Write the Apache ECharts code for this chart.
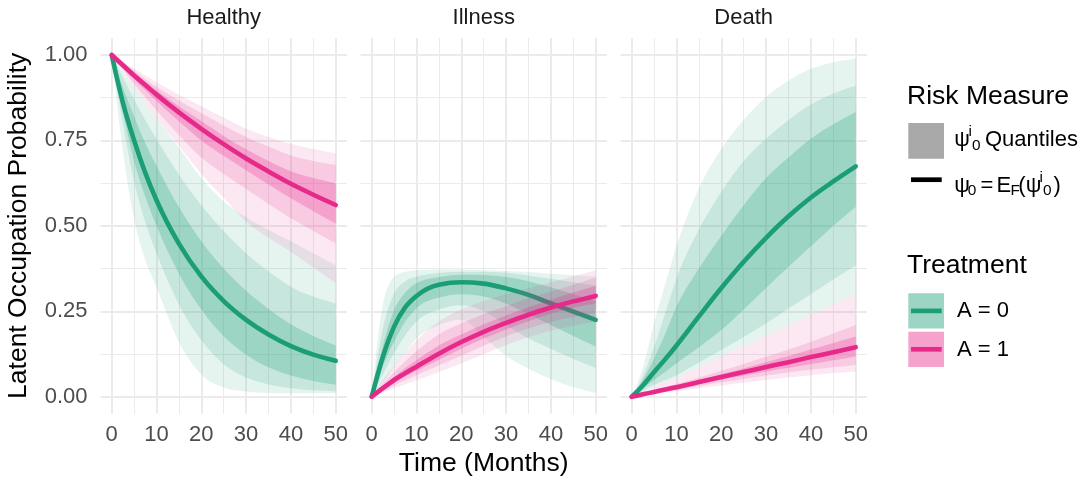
<!DOCTYPE html>
<html>
<head>
<meta charset="utf-8">
<script src="https://cdn.jsdelivr.net/npm/echarts@6/dist/echarts.min.js"></script>
<style>
html,body{margin:0;padding:0;background:#ffffff;}
#chart{width:1091px;height:480px;}
</style>
</head>
<body>
<div id="chart"></div>
<script>
// ---------- categories / ticks ----------
const months = [0, 2.5, 5, 7.5, 10, 15, 20, 25, 30, 35, 40, 45, 50];
const panelNames = ['Healthy', 'Illness', 'Death'];
const treatmentNames = ['A = 0', 'A = 1'];
const xTickLabels = [0, 10, 20, 30, 40, 50];
const yTickLabels = [0, 0.25, 0.5, 0.75, 1];

// ---------- Healthy, A = 0 ----------
const h0_oLo  = [1, 0.72, 0.52, 0.40, 0.32, 0.16, 0.065, 0.027, 0.015, 0.011, 0.010, 0.010, 0.010];
const h0_mLo  = [1, 0.80, 0.63, 0.51, 0.42, 0.27, 0.165, 0.095, 0.056, 0.036, 0.025, 0.019, 0.016];
const h0_iLo  = [1, 0.835, 0.69, 0.585, 0.50, 0.36, 0.255, 0.177, 0.123, 0.086, 0.062, 0.046, 0.035];
const h0_mean = [1, 0.86, 0.75, 0.655, 0.575, 0.448, 0.352, 0.28, 0.225, 0.182, 0.148, 0.123, 0.105];
const h0_iHi  = [1, 0.905, 0.82, 0.742, 0.675, 0.555, 0.455, 0.375, 0.31, 0.257, 0.212, 0.178, 0.15];
const h0_mHi  = [1, 0.935, 0.87, 0.81, 0.755, 0.65, 0.56, 0.485, 0.42, 0.367, 0.322, 0.293, 0.273];
const h0_oHi  = [1, 0.952, 0.905, 0.86, 0.815, 0.73, 0.64, 0.572, 0.525, 0.488, 0.455, 0.42, 0.385];

// ---------- Healthy, A = 1 ----------
const h1_oLo  = [1, 0.953, 0.905, 0.86, 0.815, 0.735, 0.652, 0.582, 0.513, 0.465, 0.424, 0.378, 0.332];
const h1_mLo  = [1, 0.958, 0.915, 0.876, 0.838, 0.766, 0.70, 0.652, 0.608, 0.564, 0.522, 0.485, 0.449];
const h1_iLo  = [1, 0.965, 0.93, 0.897, 0.865, 0.806, 0.75, 0.705, 0.663, 0.621, 0.581, 0.543, 0.507];
const h1_mean = [1, 0.97, 0.94, 0.912, 0.884, 0.832, 0.784, 0.739, 0.697, 0.659, 0.623, 0.591, 0.561];
const h1_iHi  = [1, 0.974, 0.948, 0.922, 0.897, 0.85, 0.807, 0.763, 0.724, 0.69, 0.66, 0.64, 0.624];
const h1_mHi  = [1, 0.977, 0.954, 0.93, 0.907, 0.867, 0.83, 0.794, 0.76, 0.732, 0.706, 0.69, 0.678];
const h1_oHi  = [1, 0.98, 0.961, 0.94, 0.92, 0.884, 0.85, 0.817, 0.785, 0.76, 0.74, 0.725, 0.712];

// ---------- Illness, A = 0 ----------
const i0_oLo  = [0, 0.04, 0.088, 0.13, 0.17, 0.21, 0.225, 0.175, 0.12, 0.082, 0.052, 0.028, 0.011];
const i0_mLo  = [0, 0.065, 0.127, 0.18, 0.22, 0.255, 0.268, 0.25, 0.21, 0.17, 0.14, 0.11, 0.084];
const i0_iLo  = [0, 0.09, 0.161, 0.22, 0.259, 0.29, 0.30, 0.293, 0.272, 0.242, 0.21, 0.178, 0.147];
const i0_mean = [0, 0.117, 0.205, 0.262, 0.295, 0.328, 0.335, 0.331, 0.317, 0.298, 0.273, 0.249, 0.225];
const i0_iHi  = [0, 0.15, 0.254, 0.305, 0.332, 0.35, 0.357, 0.356, 0.35, 0.338, 0.32, 0.30, 0.28];
const i0_mHi  = [0, 0.2, 0.302, 0.338, 0.351, 0.362, 0.366, 0.366, 0.363, 0.355, 0.345, 0.335, 0.325];
const i0_oHi  = [0, 0.27, 0.351, 0.366, 0.369, 0.372, 0.372, 0.37, 0.368, 0.365, 0.36, 0.356, 0.352];

// ---------- Illness, A = 1 ----------
const i1_oLo  = [0, 0.012, 0.024, 0.036, 0.048, 0.072, 0.098, 0.124, 0.151, 0.175, 0.193, 0.208, 0.22];
const i1_mLo  = [0, 0.016, 0.033, 0.048, 0.063, 0.092, 0.12, 0.149, 0.176, 0.2, 0.219, 0.233, 0.244];
const i1_iLo  = [0, 0.02, 0.041, 0.059, 0.076, 0.108, 0.14, 0.17, 0.197, 0.221, 0.243, 0.26, 0.273];
const i1_mean = [0, 0.025, 0.049, 0.069, 0.088, 0.126, 0.16, 0.19, 0.216, 0.24, 0.261, 0.279, 0.295];
const i1_iHi  = [0, 0.03, 0.058, 0.084, 0.107, 0.15, 0.182, 0.212, 0.238, 0.262, 0.284, 0.305, 0.325];
const i1_mHi  = [0, 0.037, 0.072, 0.104, 0.133, 0.183, 0.215, 0.242, 0.265, 0.288, 0.308, 0.328, 0.348];
const i1_oHi  = [0, 0.05, 0.09, 0.13, 0.165, 0.22, 0.255, 0.28, 0.30, 0.318, 0.335, 0.352, 0.37];

// ---------- Death, A = 0 ----------
const d0_oLo  = [0, 0.014, 0.029, 0.042, 0.055, 0.085, 0.118, 0.148, 0.178, 0.21, 0.24, 0.27, 0.30];
const d0_mLo  = [0, 0.017, 0.034, 0.048, 0.063, 0.10, 0.137, 0.175, 0.215, 0.258, 0.30, 0.343, 0.385];
const d0_iLo  = [0, 0.024, 0.049, 0.073, 0.098, 0.145, 0.195, 0.255, 0.318, 0.38, 0.44, 0.50, 0.556];
const d0_mean = [0, 0.033, 0.072, 0.11, 0.15, 0.235, 0.318, 0.395, 0.465, 0.528, 0.583, 0.63, 0.674];
const d0_iHi  = [0, 0.05, 0.112, 0.185, 0.263, 0.375, 0.47, 0.56, 0.64, 0.70, 0.755, 0.797, 0.833];
const d0_mHi  = [0, 0.06, 0.146, 0.245, 0.346, 0.49, 0.60, 0.69, 0.755, 0.81, 0.855, 0.887, 0.911];
const d0_oHi  = [0, 0.085, 0.215, 0.33, 0.44, 0.61, 0.725, 0.81, 0.877, 0.925, 0.96, 0.979, 0.989];

// ---------- Death, A = 1 ----------
const d1_oLo  = [0, 0.004, 0.008, 0.012, 0.016, 0.025, 0.033, 0.041, 0.049, 0.056, 0.063, 0.069, 0.074];
const d1_mLo  = [0, 0.005, 0.01, 0.015, 0.02, 0.031, 0.042, 0.052, 0.062, 0.071, 0.079, 0.086, 0.093];
const d1_iLo  = [0, 0.006, 0.012, 0.018, 0.024, 0.037, 0.05, 0.062, 0.074, 0.085, 0.096, 0.107, 0.118];
const d1_mean = [0, 0.007, 0.014, 0.021, 0.028, 0.043, 0.058, 0.072, 0.087, 0.101, 0.116, 0.13, 0.145];
const d1_iHi  = [0, 0.008, 0.016, 0.024, 0.032, 0.049, 0.066, 0.083, 0.101, 0.119, 0.138, 0.157, 0.176];
const d1_mHi  = [0, 0.009, 0.018, 0.028, 0.037, 0.056, 0.076, 0.096, 0.117, 0.138, 0.161, 0.185, 0.21];
const d1_oHi  = [0, 0.014, 0.029, 0.042, 0.055, 0.085, 0.118, 0.148, 0.178, 0.21, 0.24, 0.27, 0.30];

// ---------- assembly ----------
const groups = [
  [ {lo:[h0_oLo,h0_mLo,h0_iLo], hi:[h0_oHi,h0_mHi,h0_iHi], mean:h0_mean},
    {lo:[h1_oLo,h1_mLo,h1_iLo], hi:[h1_oHi,h1_mHi,h1_iHi], mean:h1_mean} ],
  [ {lo:[i0_oLo,i0_mLo,i0_iLo], hi:[i0_oHi,i0_mHi,i0_iHi], mean:i0_mean},
    {lo:[i1_oLo,i1_mLo,i1_iLo], hi:[i1_oHi,i1_mHi,i1_iHi], mean:i1_mean} ],
  [ {lo:[d0_oLo,d0_mLo,d0_iLo], hi:[d0_oHi,d0_mHi,d0_iHi], mean:d0_mean},
    {lo:[d1_oLo,d1_mLo,d1_iLo], hi:[d1_oHi,d1_mHi,d1_iHi], mean:d1_mean} ]
];

const COLORS = ['#1B9E77', '#E7298A'];
const RGB = [[27, 158, 119], [231, 41, 138]];
const BAND_ALPHA = [0.11, 0.15, 0.25];
const FF = '"Liberation Sans", Arial, Helvetica, sans-serif';
const GRID_C = '#EBEBEB';
const T = 'rgba(0,0,0,0)';

const PANEL_LEFT0 = 100.5, PANEL_STEP = 260, PANEL_W = 246.4;
const PANEL_TOP = 37.9, PANEL_H = 375.9;

// ---- monotone cubic smoothing of pixel points (rendering only) ----
function sgn(x) { return x < 0 ? -1 : 1; }
function tangents(P) {
  const n = P.length, t = new Array(n).fill(0);
  if (n < 2) return t;
  if (n === 2) { const s = (P[1][1] - P[0][1]) / (P[1][0] - P[0][0]); t[0] = t[1] = s; return t; }
  for (let i = 1; i < n - 1; i++) {
    const h0 = P[i][0] - P[i-1][0], h1 = P[i+1][0] - P[i][0];
    const s0 = (P[i][1] - P[i-1][1]) / h0, s1 = (P[i+1][1] - P[i][1]) / h1;
    const p = (s0 * h1 + s1 * h0) / (h0 + h1);
    t[i] = (sgn(s0) + sgn(s1)) * Math.min(Math.abs(s0), Math.abs(s1), 0.5 * Math.abs(p)) || 0;
  }
  const hA = P[1][0] - P[0][0];
  t[0] = (3 * (P[1][1] - P[0][1]) / hA - t[1]) / 2;
  const hB = P[n-1][0] - P[n-2][0];
  t[n-1] = (3 * (P[n-1][1] - P[n-2][1]) / hB - t[n-2]) / 2;
  return t;
}
function segs(P) {
  const t = tangents(P), out = [];
  for (let i = 0; i < P.length - 1; i++) {
    const dx = (P[i+1][0] - P[i][0]) / 3;
    out.push([[P[i][0] + dx, P[i][1] + dx * t[i]], [P[i+1][0] - dx, P[i+1][1] - dx * t[i+1]], P[i+1]]);
  }
  return out;
}
function f(v) { return v.toFixed(2); }
function curvePath(P) {
  let d = 'M' + f(P[0][0]) + ' ' + f(P[0][1]);
  segs(P).forEach(s => { d += 'C' + f(s[0][0]) + ' ' + f(s[0][1]) + ' ' + f(s[1][0]) + ' ' + f(s[1][1]) + ' ' + f(s[2][0]) + ' ' + f(s[2][1]); });
  return d;
}
function bandPath(U, L) {
  let d = curvePath(U);
  const n = L.length;
  d += 'L' + f(L[n-1][0]) + ' ' + f(L[n-1][1]);
  const s = segs(L);
  for (let i = s.length - 1; i >= 0; i--) {
    const start = L[i];
    d += 'C' + f(s[i][1][0]) + ' ' + f(s[i][1][1]) + ' ' + f(s[i][0][0]) + ' ' + f(s[i][0][1]) + ' ' + f(start[0]) + ' ' + f(start[1]);
  }
  return d + 'Z';
}

const grids = [], xAxes = [], yAxes = [], series = [];
function near(v, arr) { return arr.some(a => Math.abs(a - v) < 1e-6); }

panelNames.forEach((name, p) => {
  grids.push({left: PANEL_LEFT0 + PANEL_STEP * p, top: PANEL_TOP, width: PANEL_W, height: PANEL_H, containLabel: false, outerBoundsMode: 'none'});
  xAxes.push({
    gridIndex: p, type: 'value', min: -2.5, max: 52.5, interval: 2.5,
    axisLine: {show: false}, axisTick: {show: false},
    axisLabel: {show: true, margin: 10, color: '#4D4D4D', fontSize: 22, fontFamily: FF,
      showMinLabel: true, showMaxLabel: true,
      formatter: v => near(v, xTickLabels) ? String(Math.round(v)) : ''},
    splitLine: {show: true, lineStyle: {color: [T, T, T, GRID_C], width: 1}}
  });
  xAxes.push({
    gridIndex: p, type: 'value', min: -2.5, max: 52.5, interval: 2.5,
    axisLine: {show: false}, axisTick: {show: false}, axisLabel: {show: false},
    splitLine: {show: true, lineStyle: {color: [T, GRID_C, T, T], width: 2}}
  });
  yAxes.push({
    gridIndex: p, type: 'value', min: -0.05, max: 1.05, interval: 0.025,
    axisLine: {show: false}, axisTick: {show: false},
    axisLabel: {show: p === 0, margin: 13, color: '#4D4D4D', fontSize: 22, fontFamily: FF,
      showMinLabel: true, showMaxLabel: true,
      formatter: v => near(v, yTickLabels) ? v.toFixed(2) : ''},
    splitLine: {show: true, lineStyle: {color: [T, T, T, T, T, T, T, GRID_C, T, T], width: 1}}
  });
  yAxes.push({
    gridIndex: p, type: 'value', min: -0.05, max: 1.05, interval: 0.025,
    axisLine: {show: false}, axisTick: {show: false}, axisLabel: {show: false},
    splitLine: {show: true, lineStyle: {color: [T, T, GRID_C, T, T, T, T, T, T, T], width: 2}}
  });

  [0, 1].forEach(k => {
    const g = groups[p][k];
    for (let b = 0; b < 3; b++) {
      const fill = 'rgba(' + RGB[k].join(',') + ',' + BAND_ALPHA[b] + ')';
      series.push({
        type: 'custom', coordinateSystem: 'cartesian2d', xAxisIndex: 2 * p, yAxisIndex: 2 * p,
        silent: true, clip: true,
        data: months.map((m, i) => [m, g.lo[b][i], g.hi[b][i]]),
        encode: {x: 0, y: [1, 2]},
        renderItem: function (params, api) {
          if (params.dataIndexInside !== 0) return null;
          const n = params.dataInsideLength;
          const U = [], L = [];
          for (let i = 0; i < n; i++) {
            U.push(api.coord([api.value(0, i), api.value(2, i)]));
            L.push(api.coord([api.value(0, i), api.value(1, i)]));
          }
          return {type: 'path', shape: {pathData: bandPath(U, L)}, style: {fill: fill, stroke: null}};
        }
      });
    }
    const col = COLORS[k];
    series.push({
      type: 'custom', coordinateSystem: 'cartesian2d', xAxisIndex: 2 * p, yAxisIndex: 2 * p,
      silent: true, clip: true,
      data: months.map((m, i) => [m, g.mean[i]]),
      encode: {x: 0, y: 1},
      renderItem: function (params, api) {
        if (params.dataIndexInside !== 0) return null;
        const n = params.dataInsideLength;
        const P = [];
        for (let i = 0; i < n; i++) P.push(api.coord([api.value(0, i), api.value(1, i)]));
        return {type: 'path', shape: {pathData: curvePath(P)},
          style: {fill: null, stroke: col, lineWidth: 4.6, lineCap: 'round', lineJoin: 'round'}};
      }
    });
  });
});

// ---------- text / legend graphics ----------
function txt(s, x, base, size, color, align, extra) {
  return Object.assign({
    type: 'text', x: x, y: base - 0.3465 * size, silent: true,
    style: {text: s, fontSize: size, fontFamily: FF, fill: color || '#000', align: align || 'left', verticalAlign: 'middle'}
  }, extra || {});
}
const graphics = [];
panelNames.forEach((name, p) => {
  graphics.push(txt(name, PANEL_LEFT0 + PANEL_STEP * p + PANEL_W / 2, 25.2, 22, '#1A1A1A', 'center'));
});
graphics.push(txt('Time (Months)', PANEL_LEFT0 + (PANEL_STEP * 2 + PANEL_W) / 2, 472.5, 26.5, '#000', 'center'));
graphics.push({type: 'text', x: 18.4, y: PANEL_TOP + PANEL_H / 2, rotation: Math.PI / 2, silent: true,
  style: {text: 'Latent Occupation Probability', fontSize: 26.5, fontFamily: FF, fill: '#000', align: 'center', verticalAlign: 'middle'}});

graphics.push(txt('Risk Measure', 907, 106, 26.5, '#000'));
graphics.push({type: 'rect', silent: true, shape: {x: 908.3, y: 123, width: 35.7, height: 35.7}, style: {fill: '#A8A8A8'}});
graphics.push({type: 'line', silent: true, shape: {x1: 911, y1: 179.7, x2: 941.7, y2: 179.7}, style: {stroke: '#000', lineWidth: 4.7}});
const SUB = 15.4;
graphics.push(txt('\u03C8', 954.3, 148, 22, '#000'));
graphics.push(txt('i', 968.4, 137.4, SUB, '#000'));
graphics.push(txt('0', 972.0, 151.2, SUB, '#000'));
graphics.push(txt('Quantiles', 985, 148, 22, '#000'));
graphics.push(txt('\u03C8', 954.3, 194, 22, '#000'));
graphics.push(txt('0', 967.7, 195.6, SUB, '#000'));
graphics.push(txt('=', 980.6, 194, 22, '#000'));
graphics.push(txt('E', 996.6, 194, 22, '#000'));
graphics.push(txt('F', 1010.6, 195.6, SUB, '#000'));
graphics.push(txt('(', 1018.3, 194, 22, '#000'));
graphics.push(txt('\u03C8', 1025.8, 194, 22, '#000'));
graphics.push(txt('i', 1039.5, 183.2, SUB, '#000'));
graphics.push(txt('0', 1043.0, 195.6, SUB, '#000'));
graphics.push(txt(')', 1053.6, 194, 22, '#000'));

graphics.push(txt('Treatment', 907, 275, 26.5, '#000'));
const keyTops = [293.3, 331.7];
treatmentNames.forEach((lab, k) => {
  const top = keyTops[k];
  const fillAlpha = 1 - BAND_ALPHA.reduce((a, b) => a * (1 - b), 1);
  graphics.push({type: 'rect', silent: true, shape: {x: 908.3, y: top, width: 35.7, height: 35.2},
    style: {fill: 'rgba(' + RGB[k].join(',') + ',' + fillAlpha.toFixed(3) + ')'}});
  graphics.push({type: 'line', silent: true, shape: {x1: 911, y1: top + 17.6, x2: 941.7, y2: top + 17.6},
    style: {stroke: COLORS[k], lineWidth: 4.7}});
  graphics.push(txt(lab, 957, top + 17.6 + 7.9, 22, '#000'));
});

const chart = echarts.init(document.getElementById('chart'), null, {renderer: 'canvas'});
chart.setOption({
  animation: false,
  backgroundColor: '#ffffff',
  grid: grids,
  xAxis: xAxes,
  yAxis: yAxes,
  series: series,
  graphic: {elements: graphics}
});
</script>
</body>
</html>
